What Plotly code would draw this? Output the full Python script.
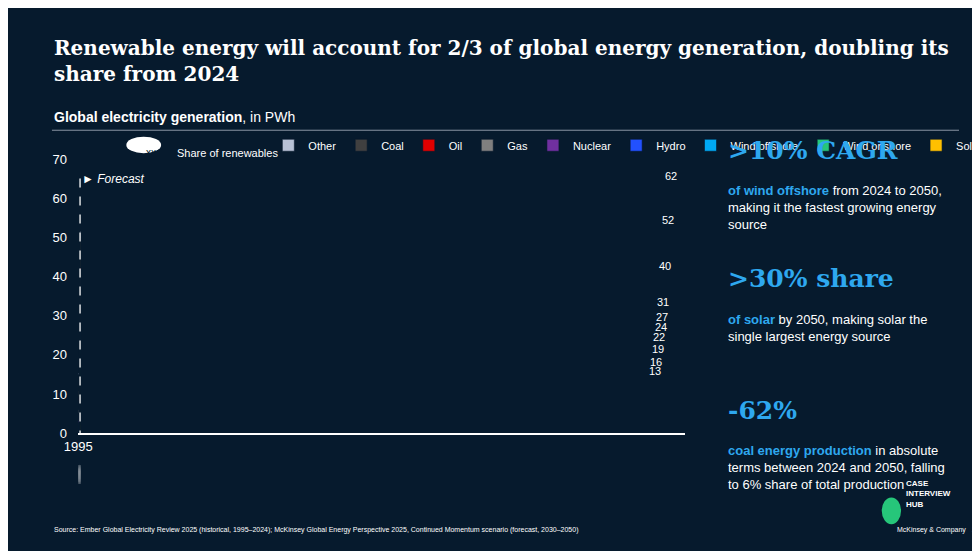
import plotly.graph_objects as go

years = ["1995","2000","2005","2010","2015","2020","2024","2030","2040","2050"]
solar   = [0,0,0,0.05,0.2,0.7,2.0,5.8,12.5,19.5]
onshore = [0.05,0.1,0.15,0.3,0.8,1.55,2.3,4.6,7.75,11.5]
offshore= [0,0,0,0,0.05,0.2,0.4,0.8,2.15,4.0]
hydro   = [2.5,2.6,2.9,3.4,3.9,4.3,4.2,5.0,5.9,6.7]
nuclear = [2.1,2.4,2.8,2.5,2.4,2.5,2.8,3.1,3.8,4.4]
gas     = [1.9,2.9,3.6,5.1,5.9,6.5,6.9,8.5,9.8,9.7]
oil     = [1.4,1.3,1.3,1.2,0.8,0.8,0.6,0.45,0.3,0.3]
coal    = [4.8,5.6,7.2,8.3,9.6,9.2,10.7,10.1,7.4,3.9]
other   = [0.4,0.6,0.7,0.9,0.7,1.0,0.9,1.5,2.1,2.75]
totals  = ["13","16","19","22","24","27","31","40","52","62"]
shares  = ["19%","17%","16%","18%","21%","25%","29%","41%","55%","66%"]

series = [("Solar",solar,"#ffc000"),("Wind onshore",onshore,"#26c67a"),
          ("Wind offshore",offshore,"#00a9f4"),("Hydro",hydro,"#2251ff"),
          ("Nuclear",nuclear,"#7030a0"),("Gas",gas,"#7f7f7f"),
          ("Oil",oil,"#e00000"),("Coal",coal,"#404040"),("Other",other,"#b8c2d6")]

BG = "#061a2d"
fig = go.Figure()
for name, vals, col in series:
    fig.add_bar(x=years, y=vals, name=name, marker=dict(color=col, line=dict(color=BG, width=0.6)))

fig.update_layout(
    barmode="stack", bargap=0.27, width=980, height=551,
    paper_bgcolor=BG, plot_bgcolor=BG,
    margin=dict(l=0, r=0, t=0, b=0),
    font=dict(family="Liberation Sans, Arial", color="white", size=12),
    showlegend=True,
    legend=dict(orientation="h", x=0.255, y=0.757, xanchor="left", yanchor="middle",
                font=dict(size=11, color="white"), bgcolor="rgba(0,0,0,0)",
                itemwidth=30, tracegroupgap=0),
    xaxis=dict(domain=[0.058, 0.686], showgrid=False, showline=True, linecolor="white",
               linewidth=2, ticks="", tickfont=dict(size=13, color="white"), fixedrange=True),
    yaxis=dict(domain=[0.2196, 0.7314], range=[0, 70], dtick=10, showgrid=False,
               zeroline=False, tickfont=dict(size=13, color="white"), ticklabelstandoff=10),
)

ann = []
shapes = []
tot_num = [sum(v[i] for _, v, _ in series) for i in range(len(years))]
for i, y in enumerate(years):
    ann.append(dict(x=y, y=tot_num[i], text=totals[i], showarrow=False, yanchor="bottom",
                    yshift=3, font=dict(size=11, color="white")))
    shapes.append(dict(type="circle", xref="x", yref="paper", x0=i-0.3, x1=i+0.3,
                       y0=0.124, y1=0.162, fillcolor="white", line=dict(width=0)))
    ann.append(dict(x=y, y=0.143, yref="paper", text=shares[i], showarrow=False,
                    font=dict(size=12, color="#061a2d")))

# legend pill
shapes.append(dict(type="circle", xref="paper", yref="paper", x0=0.108, x1=0.144,
                   y0=0.742, y1=0.773, fillcolor="white", line=dict(width=0)))
ann.append(dict(x=0.126, y=0.757, xref="paper", yref="paper", text="xx", showarrow=False,
                font=dict(size=10, color="#061a2d")))
ann.append(dict(x=0.158, y=0.757, xref="paper", yref="paper", text="Share of renewables",
                showarrow=False, xanchor="left", font=dict(size=11, color="white")))

# forecast line
shapes.append(dict(type="line", xref="x", yref="y", x0=6.5, x1=6.5, y0=65, y1=-12,
                   line=dict(color="white", width=1.3, dash="dash")))
shapes.append(dict(type="line", xref="x", yref="y", x0=6.5, x1=6.62, y0=65, y1=65,
                   line=dict(color="white", width=1.3, dash="dash")))
ann.append(dict(x=6.62, y=65, xref="x", yref="y", text="► <i>Forecast</i>", showarrow=False,
                xanchor="left", font=dict(size=12, color="white")))

# title & subtitle
ann.append(dict(x=0.031, y=0.965, xref="paper", yref="paper", xanchor="left", yanchor="top",
                align="left", showarrow=False,
                text="<b>Renewable energy will account for 2/3 of global energy generation, doubling its<br>share from 2024</b>",
                font=dict(family="DejaVu Serif", size=20, color="white")))
ann.append(dict(x=0.031, y=0.81, xref="paper", yref="paper", xanchor="left", yanchor="middle",
                showarrow=False, text="<b>Global electricity generation</b>, in PWh",
                font=dict(size=14, color="white")))
shapes.append(dict(type="line", xref="paper", yref="paper", x0=0.031, x1=0.97, y0=0.785, y1=0.785,
                   line=dict(color="#8a94a3", width=1)))

BL = "#2ea8ef"
rx = 0.729
sp = "<b><span style='color:" + BL + "'>"
blocks = [
    (0.748, ">10% CAGR", sp + "of wind offshore</span></b> from 2024 to 2050,<br>making it the fastest growing energy<br>source", 0.69),
    (0.508, ">30% share", sp + "of solar</span></b> by 2050, making solar the<br>single largest energy source", 0.45),
    (0.262, "-62%", sp + "coal energy production</span></b> in absolute<br>terms between 2024 and 2050, falling<br>to 6% share of total production", 0.205),
]
for yh, head, body, yb in blocks:
    ann.append(dict(x=rx, y=yh, xref="paper", yref="paper", xanchor="left", yanchor="middle",
                    showarrow=False, text="<b>" + head + "</b>",
                    font=dict(family="DejaVu Serif", size=25, color=BL)))
    ann.append(dict(x=rx, y=yb, xref="paper", yref="paper", xanchor="left", yanchor="top",
                    align="left", showarrow=False, text=body,
                    font=dict(size=13, color="white")))

ann.append(dict(x=0.031, y=0.028, xref="paper", yref="paper", xanchor="left", showarrow=False,
                text="Source: Ember Global Electricity Review 2025 (historical, 1995–2024); McKinsey Global Energy Perspective 2025, Continued Momentum scenario (forecast, 2030–2050)",
                font=dict(size=7, color="white")))
ann.append(dict(x=0.99, y=0.028, xref="paper", yref="paper", xanchor="right", showarrow=False,
                text="McKinsey & Company   1", font=dict(size=7, color="white")))
ann.append(dict(x=0.913, y=0.075, xref="paper", yref="paper", xanchor="left", showarrow=False,
                align="left", text="<b>CASE<br>INTERVIEW<br>HUB</b>", font=dict(size=8, color="white")))
shapes.append(dict(type="circle", xref="paper", yref="paper", x0=0.89, x1=0.91, y0=0.05, y1=0.1,
                   fillcolor="#26c67a", line=dict(width=0)))

fig.update_layout(annotations=ann, shapes=shapes)
fig.write_html("out.html")
